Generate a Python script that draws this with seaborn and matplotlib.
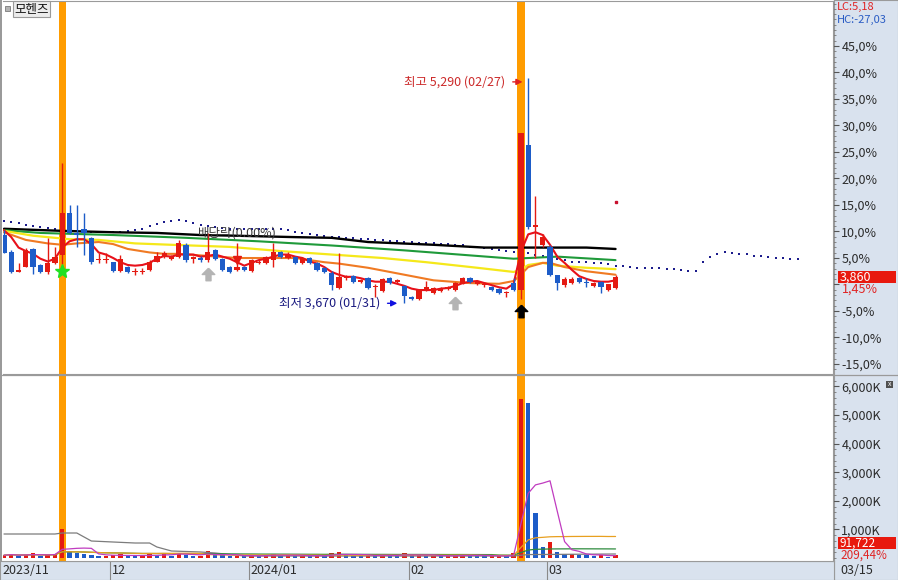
import numpy as np
import pandas as pd
import matplotlib
matplotlib.use('Agg')
import matplotlib.pyplot as plt
import matplotlib.transforms as mtrans
from matplotlib.patches import Rectangle
from matplotlib.lines import Line2D
from matplotlib.ticker import MultipleLocator
import seaborn as sns

# ---------------- data (prices in won, volume in thousand shares) ----------------
stock_name = '모헨즈'

opens = [4160, 4035, 3895, 3930, 4060, 3945, 3895, 3960, 4020, 4320,
         4175, 4205, 4140, 3980, 3980, 3965, 3900, 3930, 3895, 3895,
         3910, 3970, 4005, 3990, 4005, 4090, 3990, 3995, 3980, 4050,
         3990, 3930, 3910, 3930, 3900, 3960, 3960, 3980, 4035, 3995,
         4005, 3960, 3995, 3960, 3925, 3890, 3780, 3850, 3865, 3825,
         3850, 3785, 3760, 3850, 3825, 3795, 3715, 3700, 3765, 3745,
         3760, 3775, 3765, 3810, 3850, 3810, 3800, 3785, 3775, 3745,
         3815, 3765, 4805, 4215, 4090, 4075, 3875, 3800, 3815, 3850,
         3825, 3795, 3825, 3765, 3780]
highs = [4195, 4050, 3960, 4070, 4070, 3955, 4140, 4075, 4675, 4375,
         4375, 4320, 4145, 4030, 4030, 3970, 4020, 3940, 3920, 3920,
         3980, 4035, 4045, 4020, 4125, 4100, 4010, 4010, 4175, 4060,
         3995, 3940, 4100, 3940, 3990, 3980, 4010, 4100, 4045, 4035,
         4010, 4000, 4005, 3965, 3930, 3900, 4030, 3875, 3875, 3845,
         3860, 3805, 3850, 3860, 3845, 3800, 3720, 3775, 3830, 3785,
         3785, 3795, 3825, 3860, 3860, 3835, 3825, 3795, 3780, 3760,
         3850, 4890, 5290, 4440, 4165, 4090, 3875, 3860, 3860, 3860,
         3850, 3825, 3830, 3810, 3875]
lows = [4030, 3890, 3895, 3930, 3880, 3890, 3880, 3955, 3955, 4165,
        4075, 4020, 3955, 3960, 3960, 3895, 3895, 3890, 3870, 3880,
        3900, 3965, 3995, 3980, 3995, 3970, 3960, 3970, 3970, 3980,
        3900, 3890, 3900, 3900, 3895, 3955, 3955, 3930, 3995, 3990,
        3955, 3955, 3955, 3900, 3890, 3765, 3775, 3835, 3815, 3815,
        3775, 3715, 3750, 3810, 3815, 3670, 3695, 3695, 3760, 3735,
        3750, 3765, 3760, 3805, 3815, 3800, 3785, 3760, 3735, 3715,
        3760, 3700, 4205, 3995, 4075, 3865, 3765, 3785, 3810, 3815,
        3785, 3785, 3745, 3760, 3775]
closes = [4030, 3895, 3910, 4050, 3930, 3895, 3960, 4005, 4320, 4175,
          4160, 4175, 3965, 3990, 3990, 3900, 3990, 3895, 3900, 3900,
          3970, 4010, 4030, 4005, 4100, 3980, 3995, 3980, 4035, 3990,
          3910, 3895, 3930, 3910, 3980, 3965, 4005, 4035, 4005, 4020,
          3960, 3995, 3960, 3910, 3895, 3800, 3860, 3860, 3825, 3835,
          3780, 3795, 3845, 3815, 3835, 3720, 3700, 3765, 3785, 3780,
          3775, 3785, 3815, 3850, 3825, 3815, 3810, 3765, 3745, 3750,
          3765, 4890, 4215, 4230, 4145, 3875, 3815, 3845, 3845, 3825,
          3815, 3815, 3785, 3805, 3860]
volumes_k = [95, 140, 70, 120, 160, 85, 110, 130, 1030,
             240, 180, 150, 90, 60, 75, 110,
             130, 70, 55, 60, 140, 120, 160, 80, 190, 120, 70, 85, 230, 110, 95, 60, 85, 70,
             110, 60, 90, 150, 80, 100, 70, 80, 75, 95, 70, 160, 210, 90, 85, 60, 120, 80, 130, 70, 60, 180,
             90, 120, 70, 75, 65, 70, 110, 130, 80, 70, 60, 75, 90, 70, 160,
             5560, 5420, 1573, 385, 560, 210, 140, 150, 100, 95, 70, 120, 43.794, 91.722]

# moving average lines
ma5_line = [4195, 4145, 4070, 4045, 4025, 3990, 3970, 3990, 4070, 4115,
            4130, 4130, 4095, 4035, 4020, 3995, 3965, 3945, 3940, 3945,
            3960, 3990, 4010, 4005, 4020, 4020, 4020, 4005, 4010, 4020,
            4005, 3990, 3965, 3940, 3960, 3980, 3990, 4005, 4020, 4020,
            4005, 3995, 3970, 3955, 3930, 3895, 3875, 3860, 3860, 3850,
            3835, 3825, 3825, 3825, 3810, 3795, 3775, 3765, 3765, 3765,
            3775, 3780, 3795, 3815, 3825, 3830, 3815, 3800, 3785, 3775,
            3810, 4040, 4165, 4180, 4160, 4090, 4005, 3960, 3910, 3865,
            3845, 3830, 3825, 3825, 3835]
ma20_idx = [0, 3, 6, 8, 10, 13, 15, 17, 20, 22, 24, 28, 32, 40, 44, 46, 50, 55, 59, 64, 68, 70, 71, 72, 74, 75, 77, 80, 84]
ma20_line = [4180, 4125, 4100, 4090, 4100, 4110, 4095, 4060, 4035, 4025, 4025, 4010, 3995, 3995, 3965, 3955,
             3925, 3875, 3835, 3815, 3810, 3830, 3875, 3930, 3960, 3960, 3930, 3900, 3875]
ma60_idx = [0, 4, 9, 13, 18, 23, 31, 38, 45, 52, 58, 65, 70, 71, 72, 74, 76, 80, 84]
ma60_line = [4190, 4155, 4130, 4125, 4100, 4090, 4075, 4045, 4020, 3995, 3965, 3925, 3895, 3910, 3945, 3960,
             3940, 3925, 3915]
ma120_idx = [0, 5, 15, 25, 35, 45, 55, 65, 70, 72, 76, 84]
ma120_line = [4195, 4175, 4160, 4140, 4115, 4085, 4050, 4010, 3990, 3995, 4005, 3980]
ma240_idx = [0, 8, 15, 21, 27, 32, 40, 45, 50, 59, 66, 80, 84]
ma240_line = [4205, 4190, 4180, 4175, 4160, 4155, 4145, 4140, 4110, 4090, 4070, 4070, 4060]

# dotted forward line (runs past the last candle)
lead_line = [4260, 4255, 4245, 4230, 4225, 4215, 4210, 4205, 4195, 4195,
             4190, 4190, 4180, 4180, 4180, 4180, 4180, 4190, 4195, 4205,
             4225, 4240, 4255, 4260, 4270, 4260, 4245, 4230, 4225, 4215,
             4210, 4205, 4205, 4205, 4205, 4205, 4205, 4205, 4205, 4195,
             4180, 4175, 4165, 4160, 4155, 4145, 4145, 4140, 4140, 4130,
             4130, 4125, 4125, 4115, 4115, 4110, 4110, 4100, 4100, 4100,
             4095, 4095, 4090, 4085, 4075, 4075, 4070, 4060, 4050, 4045,
             4035, 4030, 4030, 4020, 4010, 4005, 3990, 3980, 3970, 3965,
             3965, 3960, 3960, 3955, 3940, 3940, 3930, 3925, 3925, 3925,
             3925, 3915, 3915, 3910, 3900, 3900, 3970, 4005, 4025, 4035,
             4030, 4025, 4025, 4010, 4010, 4005, 3995, 3995, 3990, 3990]

# volume line (long average)
vol_long_idx = [0, 7, 8, 10, 12, 15, 18, 20, 21, 23, 27, 29, 33, 70, 72, 84]
vol_long_line = [839, 839, 874, 874, 594, 559, 524, 524, 385, 245, 210, 175, 70, 70, 120, 140]

month_labels = ['2023/11', '12', '2024/01', '02', '03']
month_start = [0, 15, 34, 56, 75]
last_date = '03/15'
high_date = '02/27'
low_date = '01/31'
highlight_bars = [8, 71]
exdiv_bar = 27
exdiv_text = '배당락(0.00%)'
star_bars = [8]
gray_up_bars = [28, 62]
black_up_bars = [71]
red_down_bars = [32]
target_bar = 84
target_price = 4400

# ---------------- style ----------------
sns.set_style('white')
plt.rcParams['font.family'] = ['Noto Sans CJK KR', 'DejaVu Sans']
plt.rcParams['axes.unicode_minus'] = False

RED = '#e41a12'
BLUE = '#1d5cc8'
ORANGE_BAND = '#ff9c00'
STRIP = '#d9e2ee'
EDGE = '#9a9a9a'
TXT = '#2b2b2b'

W, H = 898, 580
fig = plt.figure(figsize=(W / 100, H / 100), dpi=100)


def box(x0, y0, x1, y1):
    return [x0 / W, 1 - y1 / H, (x1 - x0) / W, (y1 - y0) / H]


# side and bottom strips
for rect in [box(834, 0, 898, 580), box(0, 561, 834, 580)]:
    s = fig.add_axes(rect)
    s.set_facecolor(STRIP)
    s.set_xticks([])
    s.set_yticks([])
    for sp in s.spines.values():
        sp.set_color(EDGE)
        sp.set_linewidth(0.8)

ax = fig.add_axes(box(3, 1, 833, 374))
vax = fig.add_axes(box(3, 376, 833, 561))

n = len(closes)
x = np.arange(n)
prev_close = closes[-2]


def pct(p):
    return (np.asarray(p, dtype=float) / prev_close - 1) * 100


o, h, l, c = pct(opens), pct(highs), pct(lows), pct(closes)
cols = np.where(c >= o, RED, BLUE)

# highlighted days
for b in highlight_bars:
    ax.axvspan(b - 0.5, b + 0.5, color=ORANGE_BAND, lw=0, zorder=1)
    vax.axvspan(b - 0.5, b + 0.5, color=ORANGE_BAND, lw=0, zorder=1)

# dotted forward line
ax.scatter(np.arange(len(lead_line)), pct(lead_line), marker='s', s=2.5,
           color='#1c1c8c', linewidths=0, zorder=1.5)

# moving averages
sns.lineplot(x=ma240_idx, y=pct(ma240_line), ax=ax, color='#000000', lw=1.7, zorder=2)
sns.lineplot(x=ma120_idx, y=pct(ma120_line), ax=ax, color='#1f9a3a', lw=1.5, zorder=2)
sns.lineplot(x=ma60_idx, y=pct(ma60_line), ax=ax, color='#f5e81a', lw=1.6, zorder=2)
sns.lineplot(x=ma20_idx, y=pct(ma20_line), ax=ax, color='#f07a23', lw=1.5, zorder=2)
sns.lineplot(x=x, y=pct(ma5_line), ax=ax, color='#e8101a', lw=1.5, zorder=2.2)

# candles
ax.vlines(x, l, h, colors=cols, lw=1, zorder=3)
body_h = np.maximum(np.abs(c - o), 0.25)
ax.bar(x, body_h, bottom=np.minimum(o, c), width=0.72, color=cols, lw=0, zorder=4)

# signal markers
arrow_up = [(0, 1), (1, 0), (0.4, 0), (0.4, -1), (-0.4, -1), (-0.4, 0), (-1, 0), (0, 1)]
below = mtrans.offset_copy(ax.transData, fig=fig, x=0, y=-12, units='dots')
below_star = mtrans.offset_copy(ax.transData, fig=fig, x=0, y=-7, units='dots')
above = mtrans.offset_copy(ax.transData, fig=fig, x=0, y=7, units='dots')
ax.plot(star_bars, l[star_bars], ls='none', marker='*', ms=10, color='#22e022',
        transform=below_star, zorder=6)
ax.plot(gray_up_bars, l[gray_up_bars], ls='none', marker=arrow_up, ms=9, color='#b4b4b4',
        transform=below, zorder=6)
ax.plot(black_up_bars, l[black_up_bars], ls='none', marker=arrow_up, ms=9, color='#000000',
        transform=below, zorder=6)
ax.plot(red_down_bars, c[red_down_bars], ls='none', marker='v', ms=6, color=RED,
        transform=above, zorder=6)
ax.plot([target_bar], pct([target_price]), ls='none', marker='s', ms=2, color='#c8102e', zorder=6)

# ex-dividend text
ex_y = np.interp(exdiv_bar, ma240_idx, pct(ma240_line))
ax.text(exdiv_bar - 0.4, ex_y + 0.3, exdiv_text, fontsize=9, color='#3a3a3a',
        ha='left', va='center', zorder=7)

# high / low labels
hi_bar = int(np.argmax(highs))
lo_bar = int(np.argmin(lows))
hi_y = h[hi_bar] - 0.8
ax.annotate('', xy=(hi_bar - 0.4, hi_y), xytext=(hi_bar - 2.5, hi_y),
            arrowprops=dict(arrowstyle='-|>', color='#e02020', lw=1, mutation_scale=9), zorder=7)
ax.text(hi_bar - 3.1, hi_y, f'최고 {highs[hi_bar]:,} ({high_date})', fontsize=9,
        color='#cc2a2a', ha='right', va='center', zorder=7)
lo_y = l[lo_bar]
ax.annotate('', xy=(lo_bar - 0.6, lo_y), xytext=(lo_bar - 2.7, lo_y),
            arrowprops=dict(arrowstyle='-|>', color='#1010e0', lw=1, mutation_scale=9), zorder=7)
ax.text(lo_bar - 3.3, lo_y, f'최저 {lows[lo_bar]:,} ({low_date})', fontsize=9,
        color='#1a1a80', ha='right', va='center', zorder=7)

# axis set-up (price)
x_lo, x_hi = -0.137, 113.87
ax.set_xlim(x_lo, x_hi)
ax.set_ylim(-16.89, 53.49)
ax.set_xticks([])
ax.yaxis.tick_right()
ticks = list(range(-15, 50, 5))
ax.set_yticks(ticks)
ax.set_yticklabels(['' if t == 0 else f'{t:.1f}%'.replace('.', ',') for t in ticks])
ax.yaxis.set_minor_locator(MultipleLocator(1))
ax.tick_params(axis='y', which='major', length=4, width=0.8, color='#555555', pad=2,
               labelsize=9, labelcolor=TXT)
ax.tick_params(axis='y', which='minor', length=2, width=0.6, color='#777777')
ax.set_facecolor('white')
for side, sp in ax.spines.items():
    sp.set_color(EDGE)
    sp.set_linewidth(0.8)
ax.spines['left'].set_visible(False)
ax.set_xlabel('')
ax.set_ylabel('')

# ---------------- volume ----------------
vol = pd.Series(volumes_k, dtype=float)
vcols = np.where(vol.diff().fillna(1) >= 0, RED, BLUE)
vax.bar(x, vol, width=0.6, color=vcols, lw=0, zorder=3)
sns.lineplot(x=vol_long_idx, y=vol_long_line, ax=vax, color='#7c7c7c', lw=0.9, zorder=4)
sns.lineplot(x=x, y=vol.rolling(60, min_periods=1).mean(), ax=vax, color='#2e8b3e', lw=0.9, zorder=4)
sns.lineplot(x=x, y=vol.rolling(20, min_periods=1).mean(), ax=vax, color='#e8a020', lw=0.9, zorder=4)
sns.lineplot(x=x, y=vol.rolling(5, min_periods=1).mean(), ax=vax, color='#c03cc0', lw=0.9, zorder=4)
vax.set_xlim(x_lo, x_hi)
vax.set_ylim(-105, 6364)
vax.set_xticks([])
vax.yaxis.tick_right()
vticks = [1000, 2000, 3000, 4000, 5000, 6000]
vax.set_yticks(vticks)
vax.set_yticklabels([f'{t:,}K' for t in vticks])
vax.yaxis.set_minor_locator(MultipleLocator(200))
vax.tick_params(axis='y', which='major', length=4, width=0.8, color='#555555', pad=2,
                labelsize=9, labelcolor=TXT)
vax.tick_params(axis='y', which='minor', length=2, width=0.6, color='#777777')
for sp in vax.spines.values():
    sp.set_color(EDGE)
    sp.set_linewidth(0.8)
vax.spines['left'].set_visible(False)
vax.spines['top'].set_visible(False)
vax.set_xlabel('')
vax.set_ylabel('')

# date labels along the bottom strip
dtrans = mtrans.blended_transform_factory(vax.transData, vax.transAxes)
for idx, lab in zip(month_start, month_labels):
    vax.text(idx - 0.2, -0.05, lab, transform=dtrans, fontsize=9, color=TXT,
             ha='left', va='center', clip_on=False)
    if idx > 0:
        vax.plot([idx - 0.4, idx - 0.4], [0, -0.11], transform=dtrans, color='#8a8a8a',
                 lw=0.8, clip_on=False)
fig.text(840 / W, 1 - 570 / H, last_date, fontsize=9, color=TXT, ha='left', va='center')

# right strip: current values
lc = (closes[-1] / min(lows) - 1) * 100
hc = (closes[-1] / max(highs) - 1) * 100
fig.text(837 / W, 1 - 7 / H, f'LC:{lc:.2f}'.replace('.', ','), fontsize=8, color='#e02424', va='center')
fig.text(837 / W, 1 - 19.5 / H, f'HC:{hc:.2f}'.replace('.', ','), fontsize=8, color='#2a5cc4', va='center')

trans_r = mtrans.blended_transform_factory(fig.transFigure, ax.transData)
cp = c[-1]
fig.add_artist(Rectangle((838 / W, cp - 1.15), 58 / W, 2.3, transform=trans_r,
                         fc='#e8190e', ec='none', zorder=5))
fig.text(840 / W, cp, f'{closes[-1]:,}', transform=trans_r, fontsize=9, color='white',
         va='center', ha='left', zorder=6)
fig.text(842 / W, cp, f'{cp:.2f}%'.replace('.', ','),
         transform=mtrans.offset_copy(trans_r, fig=fig, y=-12, units='dots'),
         fontsize=9, color='#e02424', va='center', ha='left', zorder=6)

# volume value box sits just under the 1,000K label
trans_v = mtrans.blended_transform_factory(fig.transFigure, vax.transAxes)
fig.add_artist(Rectangle((838 / W, 0.065), 58 / W, 0.0648, transform=trans_v,
                         fc='#e8190e', ec='none', zorder=5))
fig.text(840 / W, 0.097, f'{volumes_k[-1] * 1000:,.0f}', transform=trans_v, fontsize=8.5,
         color='white', va='center', ha='left', zorder=6)
fig.text(840 / W, 0.03, f'{volumes_k[-1] / volumes_k[-2] * 100:.2f}%'.replace('.', ','),
         transform=trans_v, fontsize=8.5, color='#e02424', va='center', ha='left', zorder=6)

# frame bits
fig.add_artist(Line2D([0, 1], [1 - 374.5 / H, 1 - 374.5 / H], transform=fig.transFigure,
                      color=EDGE, lw=0.9, zorder=4))
fig.add_artist(Rectangle((0, 1 - 561 / H), 2 / W, 561 / H, transform=fig.transFigure,
                         fc=EDGE, ec='none', zorder=4))
fig.add_artist(Rectangle((5 / W, 1 - 11 / H), 5 / W, 5 / H, transform=fig.transFigure,
                         fc='#b4b4b4', ec='#7a7a7a', lw=0.6, zorder=5))
fig.text(14 / W, 1 - 9 / H, stock_name, fontsize=9, color='#111111', ha='left', va='center',
         bbox=dict(boxstyle='square,pad=0.12', fc='#ececec', ec='#9a9a9a', lw=0.8), zorder=6)
fig.add_artist(Rectangle((886 / W, 1 - 388 / H), 7 / W, 7 / H, transform=fig.transFigure,
                         fc='#505050', ec='none', zorder=5))
fig.text(889.5 / W, 1 - 384.5 / H, 'x', fontsize=5, color='white', ha='center', va='center', zorder=6)

fig.savefig('out.png', dpi=100)
